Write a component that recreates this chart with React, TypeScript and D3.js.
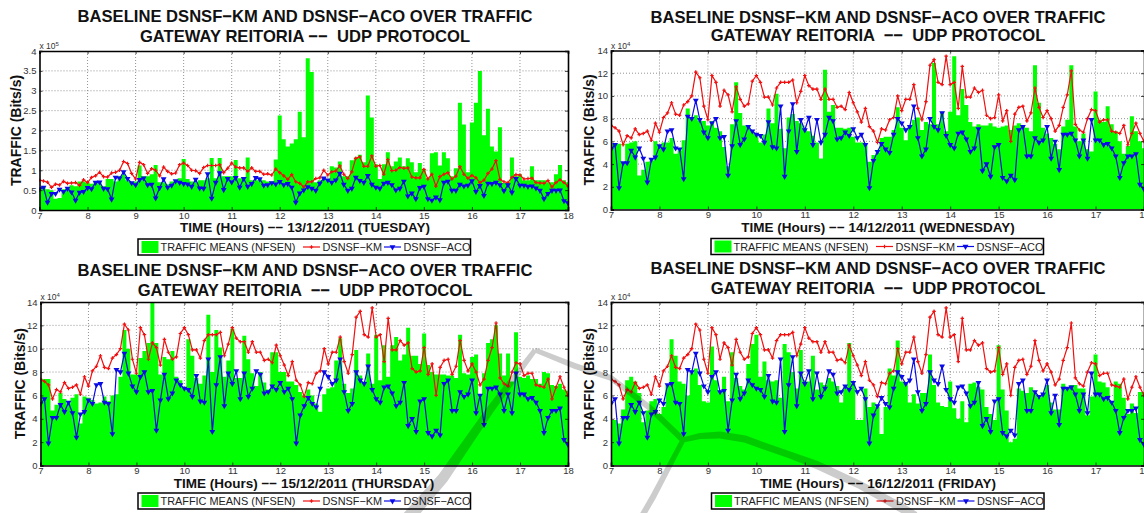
import { useEffect, useRef } from 'react';
import * as d3 from 'd3';

// 5 minute samples from 7h to 18h. Tuesday is in units of 1e5, the others 1e4.
const tueBars = [0.55,0.58,0.52,0.5,0.28,0.3,0.52,0.55,0.62,0.6,0.72,0.72,0.68,0.66,0.7,0.72,0.6,0.78,0.78,0.72,0.85,0.9,0.75,0.7,0.72,1.12,0.85,0.85,0.9,1.13,0.7,0.7,0.65,0.72,0.75,0.8,1.28,0.78,0.72,0.7,0.75,0.75,0.8,1.31,0.8,1.31,0.85,0.85,0.85,1.26,0.8,0.8,1.32,0.75,0.75,0.78,0.75,0.72,0.72,1.27,2.38,1.78,1.6,1.67,1.78,2.47,1.83,3.82,3.47,0.7,0.75,0.8,0.75,1.1,1.07,1.22,0.85,0.85,1.25,1.32,1.39,1.2,2.88,2.33,1.15,0.78,1.15,1.45,1.1,1.22,1.32,1.1,1.3,1.2,0.95,1.18,1.03,0.8,1.43,1.45,1.12,1.45,1.3,0.85,1.05,2.7,2.15,0.95,2.2,2.7,3.5,1.88,2.55,1.6,1.47,2.08,0.68,0.68,1.32,0.85,0.9,0.75,0.75,1.1,0.75,0.75,0.75,0.7,0.7,0.9,1.13,0.75,0.7];
const tueKm = [0.75,0.73,0.7,0.57,0.65,0.63,0.72,0.67,0.68,0.69,0.62,0.76,0.69,0.82,0.86,0.95,0.84,0.83,0.93,0.95,1.0,1.22,1.17,0.92,0.78,1.2,1.14,0.92,1.04,1.0,0.86,1.08,0.97,0.91,0.93,1.14,1.18,1.12,1.0,0.99,0.92,1.07,1.12,1.12,1.12,1.14,0.94,1.05,1.18,1.08,1.06,1.06,0.97,1.06,0.97,0.97,0.9,0.91,0.88,1.03,0.94,0.86,0.77,0.89,0.71,0.67,0.58,0.71,0.71,0.79,0.81,1.0,0.88,0.96,0.98,1.11,0.9,0.79,0.96,1.3,1.34,1.1,1.1,1.36,1.1,1.12,0.9,1.27,0.99,1.0,1.07,1.05,1.06,0.83,0.81,0.81,1.02,0.78,0.9,0.6,0.84,0.9,0.94,0.78,0.85,1.09,0.9,0.8,0.87,0.81,0.69,0.75,0.92,1.03,1.24,0.77,0.71,0.69,0.82,0.89,0.88,0.78,0.79,0.8,0.69,0.68,0.67,0.74,0.58,0.69,0.76,0.69,0.6];
const tueAco = [0.53,0.57,0.19,0.41,0.41,0.52,0.46,0.54,0.45,0.24,0.44,0.46,0.56,0.53,0.69,0.7,0.54,0.53,0.27,0.82,0.8,0.96,0.79,0.68,0.63,0.76,0.8,0.63,0.64,0.3,0.56,0.78,0.57,0.62,0.73,0.69,0.66,0.65,0.59,0.77,0.55,0.54,0.91,0.29,0.69,0.93,0.51,0.79,0.7,0.81,0.57,0.79,0.59,0.66,0.81,0.78,0.62,0.63,0.68,0.65,0.71,0.63,0.66,0.57,0.19,0.42,0.5,0.58,0.54,0.49,0.67,0.8,0.75,0.69,0.75,0.92,0.64,0.49,0.54,0.82,0.74,0.69,0.86,0.64,0.57,0.54,0.67,0.69,0.63,0.5,0.54,0.72,0.35,0.42,0.28,0.56,0.59,0.28,0.24,0.32,0.25,0.69,0.72,0.49,0.49,0.64,0.6,0.62,0.73,0.46,0.61,0.36,0.67,0.66,0.69,0.63,0.48,0.63,0.44,0.79,0.62,0.62,0.59,0.6,0.55,0.49,0.28,0.41,0.49,0.49,0.5,0.23,0.18];

const wedBars = [5.8,5.8,5.8,4.1,5.8,5.9,6.0,3.0,3.5,4.2,4.3,6.0,5.6,5.9,5.9,6.3,4.9,5.2,6.1,8.9,8.0,8.3,7.8,7.8,7.4,7.8,7.2,6.9,5.5,3.8,7.5,11.2,8.5,7.4,7.3,6.9,6.6,5.9,6.6,8.9,7.6,10.2,7.1,5.4,8.1,8.4,7.8,7.6,7.1,6.9,6.5,5.9,4.5,12.3,8.6,9.2,7.2,7.2,7.1,7.2,6.4,5.9,5.9,5.8,4.2,4.8,5.0,6.3,6.4,6.4,7.0,9.0,7.2,6.1,7.4,7.9,8.1,7.0,7.7,7.5,12.9,7.5,8.6,6.9,8.6,13.5,8.3,10.6,9.2,7.7,7.3,7.5,7.4,7.4,7.6,7.3,7.2,7.3,7.4,7.0,7.4,7.6,7.4,7.2,6.9,12.7,9.4,7.2,6.7,6.3,5.8,5.3,7.3,7.9,12.7,7.3,6.0,6.7,5.3,5.1,10.4,7.9,7.7,9.1,7.5,6.9,6.0,4.9,5.6,8.2,6.9,6.0,5.4];
const thuBars = [7.3,7.4,7.4,4.7,5.2,6.2,5.7,5.3,5.8,6.1,3.6,5.9,5.8,5.6,5.3,5.4,5.9,5.5,6.0,6.1,7.6,11.6,10.0,7.8,7.8,9.2,9.8,10.5,14.0,10.5,7.8,9.3,9.1,9.8,7.6,7.3,6.7,10.8,9.4,7.5,7.0,7.7,12.9,8.0,11.6,10.1,7.6,9.0,11.7,7.5,7.5,11.1,9.1,7.9,6.8,8.0,7.1,6.5,9.7,9.7,8.0,8.0,7.2,7.2,6.9,6.3,6.0,6.5,6.0,5.3,4.6,6.1,6.6,6.7,9.0,10.9,7.0,6.2,6.6,9.9,7.7,7.2,9.6,7.0,11.2,7.3,10.3,7.6,10.3,11.0,9.0,9.5,11.8,9.4,9.4,8.7,11.3,8.6,8.0,7.8,7.8,7.8,7.7,7.7,7.5,11.2,7.9,7.8,9.3,9.5,6.0,7.9,10.5,10.8,12.0,9.6,7.7,9.6,7.2,11.4,7.6,7.5,7.7,7.4,7.4,7.0,8.0,7.9,6.9,6.8,7.0,6.5,6.4];
const friBars = [3.9,3.9,3.6,4.8,7.3,7.6,7.2,6.2,3.7,4.7,5.5,5.7,4.4,5.0,6.9,10.8,9.4,7.2,7.0,6.0,7.9,8.3,6.9,5.5,5.4,10.2,7.3,6.4,7.6,5.5,9.7,7.5,6.8,6.5,8.7,10.4,11.2,7.6,8.9,7.3,7.2,7.3,5.8,10.4,9.7,8.0,6.6,9.9,7.2,7.2,9.4,6.5,7.1,6.9,7.5,7.2,6.8,5.4,6.7,10.5,7.0,3.9,3.9,6.6,5.0,5.4,5.0,2.7,5.0,8.3,7.7,10.7,7.2,7.0,5.4,6.1,5.3,6.2,6.2,9.5,6.9,5.4,5.1,5.0,7.2,4.9,4.0,5.5,3.7,7.0,7.1,6.7,6.5,5.0,4.4,3.9,10.3,6.5,4.7,2.0,2.3,6.6,6.4,6.2,6.7,6.2,5.8,6.2,6.9,5.4,4.8,4.8,7.0,6.7,6.9,6.9,6.6,6.6,4.3,5.9,9.5,7.2,7.1,6.7,5.5,7.2,7.0,5.8,4.4,5.3,4.5,6.3,6.3];

// Wed, Thu and Fri share one baseline
const weekKm = [7.4,7.2,6.9,5.7,6.5,6.3,7.1,6.6,6.7,6.9,6.1,7.6,6.8,8.1,8.5,9.4,8.4,8.3,9.2,9.5,10.0,12.1,11.6,9.1,7.9,11.8,11.2,9.1,10.5,10.1,8.6,10.8,9.7,9.1,9.3,11.3,11.8,11.2,9.9,9.9,9.2,10.7,11.2,11.2,11.2,11.4,9.4,10.4,11.8,10.9,10.6,10.6,9.7,10.6,9.7,9.7,9.0,9.1,8.8,10.3,9.4,8.6,7.7,8.9,7.3,6.9,5.9,7.1,7.0,7.9,8.1,10.0,8.7,9.7,9.7,11.0,8.9,7.9,9.5,12.7,13.2,11.2,11.0,13.5,11.0,11.2,8.9,12.6,9.9,9.9,10.7,10.3,10.5,8.3,8.0,8.1,10.1,7.8,8.7,6.0,8.4,9.0,9.1,7.8,8.5,10.7,9.0,8.1,8.7,8.0,6.9,7.4,9.0,10.1,12.2,7.5,7.0,6.8,8.0,8.8,8.7,7.7,7.9,7.9,6.9,6.8,6.7,7.4,5.7,6.7,7.6,6.7,6.0];
const weekAco = [5.3,5.7,1.9,4.1,4.1,5.2,4.6,5.4,4.5,2.4,4.4,4.6,5.6,5.3,6.9,7.0,5.4,5.3,2.7,8.2,8.0,9.6,7.9,6.8,6.3,7.6,8.0,6.3,6.4,3.0,5.6,7.8,5.7,6.2,7.3,6.9,6.6,6.5,5.9,7.7,5.5,5.4,9.1,2.9,6.9,9.3,5.1,7.9,7.0,8.1,5.7,7.9,5.9,6.6,8.1,7.8,6.2,6.3,6.8,6.5,7.1,6.3,6.6,5.7,1.9,4.3,5.1,5.8,5.3,5.0,6.6,8.0,7.6,7.0,7.3,9.1,6.3,4.7,5.3,8.0,7.3,7.0,8.5,6.5,5.7,5.4,6.7,6.8,6.2,5.1,5.4,7.1,3.4,4.0,2.9,5.5,5.7,2.8,2.5,3.0,2.6,7.0,7.3,4.7,4.7,6.3,5.9,6.1,7.3,4.5,6.0,3.5,6.6,6.6,6.7,6.1,4.7,6.1,4.5,7.9,6.1,6.1,5.7,5.8,5.4,4.7,2.8,4.1,4.7,4.7,4.9,2.2,1.8];

const hourTicks = [7, 8, 9, 10, 11, 12, 13, 14, 15, 16, 17, 18];
const tueTicks = [0, 0.5, 1, 1.5, 2, 2.5, 3, 3.5, 4];
const weekTicks = [0, 2, 4, 6, 8, 10, 12, 14];
const legendLabels = ['TRAFFIC MEANS (NFSEN)', 'DSNSF\u2212KM', 'DSNSF\u2212ACO'];
const titleTop = 'BASELINE DSNSF\u2212KM AND DSNSF\u2212ACO OVER TRAFFIC';
const titleWide = 'GATEWAY REITORIA  \u2212\u2212  UDP PROTOCOL';
const titleNarrow = 'GATEWAY REITORIA \u2212\u2212  UDP PROTOCOL';

const panels = [
  { bars: tueBars, km: tueKm, aco: tueAco, yMax: 4, ticks: tueTicks, exp: '5', date: '13/12/2011 (TUESDAY)', title2: titleNarrow,
    left: 39.5, right: 568, top: 51, bottom: 210, titleX: 305, titleY: [22, 42], labelX: 305, labelY: 232, yLabelX: 21, legendX: 138, legendY: 239 },
  { bars: wedBars, km: weekKm, aco: weekAco, yMax: 14, ticks: weekTicks, exp: '4', date: '14/12/2011 (WEDNESDAY)', title2: titleWide,
    left: 611, right: 1144, top: 50.5, bottom: 209.5, titleX: 878, titleY: [22.5, 41], labelX: 878, labelY: 232, yLabelX: 594, legendX: 711, legendY: 238.5 },
  { bars: thuBars, km: weekKm, aco: weekAco, yMax: 14, ticks: weekTicks, exp: '4', date: '15/12/2011 (THURSDAY)', title2: titleWide,
    left: 40.5, right: 568, top: 302, bottom: 465.5, titleX: 305, titleY: [276, 296], labelX: 304, labelY: 488, yLabelX: 25, legendX: 138, legendY: 493 },
  { bars: friBars, km: weekKm, aco: weekAco, yMax: 14, ticks: weekTicks, exp: '4', date: '16/12/2011 (FRIDAY)', title2: titleWide,
    left: 611, right: 1144, top: 302, bottom: 465.5, titleX: 878, titleY: [274, 294], labelX: 878, labelY: 488, yLabelX: 594, legendX: 711.5, legendY: 493 },
];

// faint publisher watermark lying across the lower charts: [x, y, width]
const watermark = [
  [[408, 518, 13], [443, 478, 11], [490, 410, 8], [535, 350, 5]],
  [[535, 350, 5], [575, 366, 6], [611, 378, 6], [650, 408, 6], [683, 440, 6]],
  [[642, 516, 6], [653, 497, 6], [683, 440, 5]],
  [[683, 440, 5], [700, 436, 6], [720, 435, 7], [745, 439, 7], [767, 447, 7], [790, 455, 7], [817, 465, 8], [860, 485, 8], [900, 507, 9], [915, 516, 9]],
];

const SANS = '"Liberation Sans", Arial, sans-serif';

// closed ribbon round a centre line, each point with its own width
function ribbon(pts: number[][]) {
  const side = (sign: number) => pts.map((p, i) => {
    const a = pts[Math.max(i - 1, 0)];
    const b = pts[Math.min(i + 1, pts.length - 1)];
    const len = Math.hypot(b[0] - a[0], b[1] - a[1]);
    return [
      p[0] + (sign * p[2] * (a[1] - b[1])) / (2 * len),
      p[1] + (sign * p[2] * (b[0] - a[0])) / (2 * len),
    ];
  });
  const outline = [...side(1), ...side(-1).reverse()];
  return d3.line().curve(d3.curveLinearClosed)(outline as [number, number][]);
}

export default function App() {
  const svgRef = useRef<SVGSVGElement>(null);

  useEffect(() => {
    const svg = d3.select(svgRef.current);
    svg.selectAll('*').remove();

    panels.forEach((p, n) => {
      const g = svg.append('g');
      const x = d3.scaleLinear().domain([7, 18]).range([p.left, p.right]);
      const y = d3.scaleLinear().domain([0, p.yMax]).range([p.bottom, p.top]);
      const hours = p.bars.map((_, i) => 7 + i / 12);

      const clipId = `plot-${n}`;
      svg.append('clipPath').attr('id', clipId).append('rect')
        .attr('x', p.left).attr('y', p.top)
        .attr('width', p.right - p.left).attr('height', p.bottom - p.top);

      // Grid
      g.append('g').selectAll('line').data(hourTicks.slice(1, -1)).enter().append('line')
        .attr('x1', (d) => x(d)).attr('x2', (d) => x(d))
        .attr('y1', p.top).attr('y2', p.bottom)
        .attr('stroke', '#777').attr('stroke-dasharray', '1,2').attr('stroke-width', 0.8);
      g.append('g').selectAll('line').data(p.ticks.slice(1, -1)).enter().append('line')
        .attr('x1', p.left).attr('x2', p.right)
        .attr('y1', (d) => y(d)).attr('y2', (d) => y(d))
        .attr('stroke', '#777').attr('stroke-dasharray', '1,2').attr('stroke-width', 0.8);

      const plot = g.append('g').attr('clip-path', `url(#${clipId})`);

      // Bars, drawn as one stepped shape so no seams show between them
      const barArea = d3.area<number>()
        .x((_, i) => x(hours[i]))
        .y0(p.bottom)
        .y1((d) => y(d))
        .curve(d3.curveStep);
      plot.append('path').attr('d', barArea(p.bars)).attr('fill', '#00ff00');

      // Lines
      const line = d3.line<number>().x((_, i) => x(hours[i])).y((d) => y(d));
      const cross = d3.symbol().type(d3.symbolCross).size(7);
      plot.append('path').attr('d', line(p.km)).attr('fill', 'none').attr('stroke', '#f01010').attr('stroke-width', 1.2);
      plot.selectAll('.km').data(p.km).enter().append('path').attr('class', 'km')
        .attr('d', cross())
        .attr('transform', (d, i) => `translate(${x(hours[i])},${y(d)})`)
        .attr('fill', '#f01010');

      plot.append('path').attr('d', line(p.aco)).attr('fill', 'none').attr('stroke', '#0a0ae6').attr('stroke-width', 1.2);
      const tri = d3.symbol().type(d3.symbolTriangle).size(15);
      plot.selectAll('.aco').data(p.aco).enter().append('path').attr('class', 'aco')
        .attr('d', tri())
        .attr('transform', (d, i) => `translate(${x(hours[i])},${y(d)}) rotate(180)`)
        .attr('fill', '#0a0ae6');

      // Axes
      const fmt = (d: d3.NumberValue) => String(d);
      const bottom = g.append('g').attr('transform', `translate(0,${p.bottom})`)
        .call(d3.axisBottom(x).tickValues(hourTicks).tickFormat(fmt).tickSize(-3).tickPadding(2));
      const top = g.append('g').attr('transform', `translate(0,${p.top})`)
        .call(d3.axisTop(x).tickValues(hourTicks).tickFormat(() => '').tickSize(-3));
      const leftAxis = g.append('g').attr('transform', `translate(${p.left},0)`)
        .call(d3.axisLeft(y).tickValues(p.ticks).tickFormat(fmt).tickSize(-3).tickPadding(3));
      const rightAxis = g.append('g').attr('transform', `translate(${p.right},0)`)
        .call(d3.axisRight(y).tickValues(p.ticks).tickFormat(() => '').tickSize(-3));
      [bottom, top, leftAxis, rightAxis].forEach((a) => {
        a.selectAll('.domain').attr('stroke', '#000').attr('stroke-width', 1.6);
        a.selectAll('.tick line').attr('stroke', '#111').attr('stroke-width', 0.8);
        a.selectAll('text').attr('font-family', SANS).attr('font-size', 9.5).attr('fill', '#333');
      });

      // Exponent
      const expText = g.append('text').attr('x', p.left).attr('y', p.top - 2)
        .attr('font-family', SANS).attr('font-size', 8.5).attr('fill', '#333').text('x 10');
      expText.append('tspan').attr('font-size', 6).attr('dy', -3).text(p.exp);

      // Titles
      const bold = (sel: d3.Selection<SVGTextElement, unknown, null, undefined>, size: number) =>
        sel.attr('font-family', SANS).attr('font-weight', 'bold').attr('font-size', size).attr('fill', '#111')
          .attr('text-anchor', 'middle').style('white-space', 'pre');
      bold(g.append('text').attr('x', p.titleX).attr('y', p.titleY[0]), 16.6).text(titleTop);
      bold(g.append('text').attr('x', p.titleX).attr('y', p.titleY[1]), 16.6).text(p.title2);
      bold(g.append('text').attr('x', p.labelX).attr('y', p.labelY), 13.5).text(`TIME (Hours) \u2212\u2212 ${p.date}`);
      bold(g.append('text').attr('transform', `translate(${p.yLabelX},${(p.top + p.bottom) / 2}) rotate(-90)`), 14).text('TRAFFIC (Bits/s)');

      // Legend
      const lg = g.append('g').attr('transform', `translate(${p.legendX},${p.legendY})`);
      lg.append('rect').attr('width', 332.5).attr('height', 16).attr('fill', '#fff').attr('stroke', '#000').attr('stroke-width', 1.5);
      lg.append('rect').attr('x', 3.5).attr('y', 2).attr('width', 17).attr('height', 12).attr('fill', '#00ff00');
      const lgText = (tx: number, s: string) => lg.append('text').attr('x', tx).attr('y', 12)
        .attr('font-family', SANS).attr('font-size', 10.9).attr('fill', '#222').text(s);
      lgText(22.5, legendLabels[0]);
      lgText(184.5, legendLabels[1]);
      lgText(265.5, legendLabels[2]);
      lg.append('line').attr('x1', 165).attr('x2', 182).attr('y1', 8).attr('y2', 8).attr('stroke', '#f01010').attr('stroke-width', 1.2);
      lg.append('path').attr('d', cross()).attr('transform', 'translate(173.5,8)').attr('fill', '#f01010');
      lg.append('line').attr('x1', 246).attr('x2', 263).attr('y1', 8).attr('y2', 8).attr('stroke', '#0a0ae6').attr('stroke-width', 1.2);
      lg.append('path').attr('d', tri()).attr('transform', 'translate(254.5,8) rotate(180)').attr('fill', '#0a0ae6');
    });

    // Watermark
    svg.append('path')
      .attr('d', watermark.map(ribbon).join(''))
      .attr('fill', '#000').attr('fill-opacity', 0.2).attr('fill-rule', 'nonzero');
  }, []);

  return (
    <svg
      ref={svgRef}
      width={1144}
      height={513}
      style={{ position: 'absolute', left: 0, top: 0, display: 'block', background: '#fff' }}
    />
  );
}
